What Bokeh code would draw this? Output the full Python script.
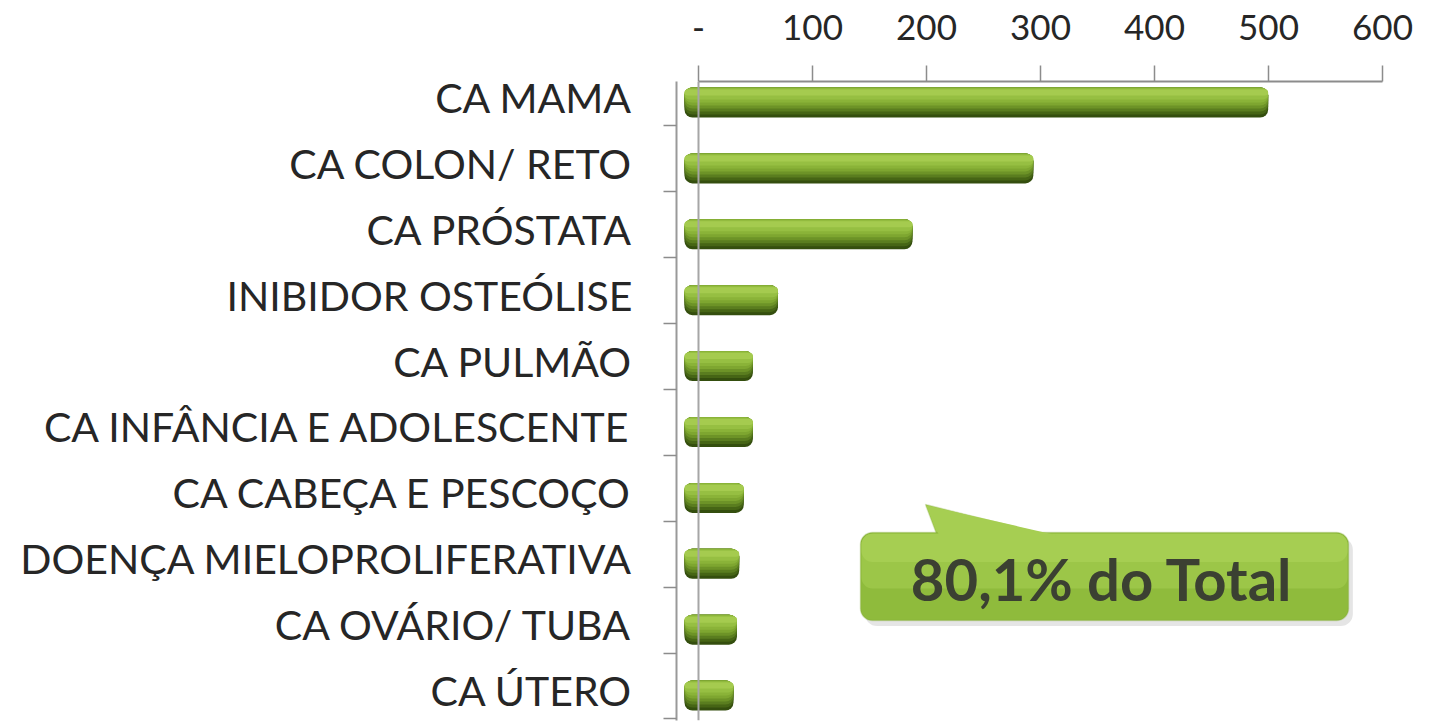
from bokeh.plotting import figure
from bokeh.models import (ColumnDataSource, Range1d, FixedTicker, Span,
                          BoxAnnotation, PolyAnnotation, Label)
from bokeh.transform import dodge
from bokeh.embed import file_html
from bokeh.resources import INLINE

# ---- data ----
categories = ["CA MAMA", "CA COLON/ RETO", "CA PRÓSTATA", "INIBIDOR OSTEÓLISE",
              "CA PULMÃO", "CA INFÂNCIA E ADOLESCENTE", "CA CABEÇA E PESCOÇO",
              "DOENÇA MIELOPROLIFERATIVA", "CA OVÁRIO/ TUBA", "CA ÚTERO"]
values = [512, 306, 200, 82, 60, 60, 52, 48, 46, 43]
tick_values = [0, 100, 200, 300, 400, 500, 600]
tick_labels = ["-", "100", "200", "300", "400", "500", "600"]
callout_text = "80,1% do Total"

n = len(categories)
positions = list(range(n))
source = ColumnDataSource(dict(pos=positions, value=values, zero=[0] * n, cat=categories))

# ---- style constants ----
FONT = "Lato"
PX_Y = 65.9          # pixels per category step
DEPTH = 12.3         # 3D depth offset of the bar front face (x units)

p = figure(width=1444, height=728, output_backend="svg", toolbar_location=None,
           x_range=Range1d(-19.3, 611.4), y_range=Range1d(9.454, -0.243),
           x_axis_location="above",
           min_border_left=676, min_border_right=49, min_border_top=81, min_border_bottom=8)
p.outline_line_color = None
p.xgrid.visible = False
p.ygrid.visible = False
p.background_fill_color = "white"

# top value axis
xa = p.xaxis[0]
xa.ticker = FixedTicker(ticks=tick_values, minor_ticks=[])
xa.major_label_overrides = {v: l for v, l in zip(tick_values, tick_labels)}
xa.bounds = (tick_values[0], tick_values[-1])
xa.axis_line_color = "#8c8c8c"
xa.axis_line_width = 2
xa.major_tick_out = 16
xa.major_tick_in = 0
xa.major_tick_line_color = "#8c8c8c"
xa.major_tick_line_width = 1.5
xa.major_label_standoff = 26
xa.major_label_text_font = FONT
xa.major_label_text_font_size = "35px"
xa.major_label_text_color = "#262626"

# left category axis
ya = p.yaxis[0]
ya.ticker = FixedTicker(ticks=positions, minor_ticks=[i + 0.43 for i in range(-1, n)])
ya.major_label_overrides = {i: c for i, c in zip(positions, categories)}
ya.axis_line_color = "#999999"
ya.axis_line_width = 2
ya.major_tick_out = 0
ya.major_tick_in = 0
ya.major_tick_line_color = None
ya.minor_tick_out = 13
ya.minor_tick_in = 0
ya.minor_tick_line_color = "#8c8c8c"
ya.minor_tick_line_width = 1.5
ya.major_label_standoff = 31
ya.major_label_text_font = FONT
ya.major_label_text_font_size = "41px"
ya.major_label_text_color = "#262626"

# back wall line at zero
p.add_layout(Span(location=0, dimension="height", line_color="#a6a6a6", line_width=2))

# 3D-looking bars (layered shading, top light -> bottom dark)
layers = [(0, 30, "#344e0e"), (0, 27, "#466515"), (0, 24, "#5a7d1f"), (0, 21, "#6d9327"),
          (0, 18, "#7ea630"), (0, 15, "#8ab338"), (1, 12, "#96bf42"), (2, 8, "#a5cb4f")]
for a, b, col in layers:
    off = ((a + b) / 2 - 10) / PX_Y
    h = (b - a) / PX_Y
    p.hbar(y=dodge("pos", off), left=dodge("zero", -DEPTH), right=dodge("value", -DEPTH),
           height=h, fill_color=col, line_color=None, border_radius=int(min(8, (b - a) / 2)),
           source=source)

# callout
p.add_layout(BoxAnnotation(left=146, right=574, top=6.68, bottom=8.02, fill_color="#000000",
                           fill_alpha=0.10, line_color=None, border_radius=12))
p.add_layout(PolyAnnotation(xs=[199.1, 210.5, 320.2], ys=[6.176, 6.70, 6.70],
                            fill_color="#a6ce52", fill_alpha=1, line_color="#86ad3a", line_width=1.5))
p.add_layout(BoxAnnotation(left=142.1, right=570.2, top=6.601, bottom=7.936,
                           fill_color="#8fbb3c", fill_alpha=1, line_color="#7ea436",
                           line_width=1.5, border_radius=12))
p.add_layout(BoxAnnotation(left=143.0, right=569.3, top=6.62, bottom=7.45,
                           fill_color="#9cc648", fill_alpha=1, line_color=None, border_radius=11))
p.add_layout(BoxAnnotation(left=143.0, right=569.3, top=6.62, bottom=7.05,
                           fill_color="#a6ce52", fill_alpha=1, line_color=None, border_radius=11))
p.add_layout(PolyAnnotation(xs=[199.6, 211.5, 319.0], ys=[6.19, 6.66, 6.66],
                            fill_color="#a6ce52", fill_alpha=1, line_color=None))
p.add_layout(Label(x=354, y=7.30, text=callout_text, text_align="center",
                   text_baseline="middle", text_font=FONT, text_font_style="bold",
                   text_font_size="58px", text_color="#3b4032"))

open("out.html", "w").write(file_html(p, INLINE))
